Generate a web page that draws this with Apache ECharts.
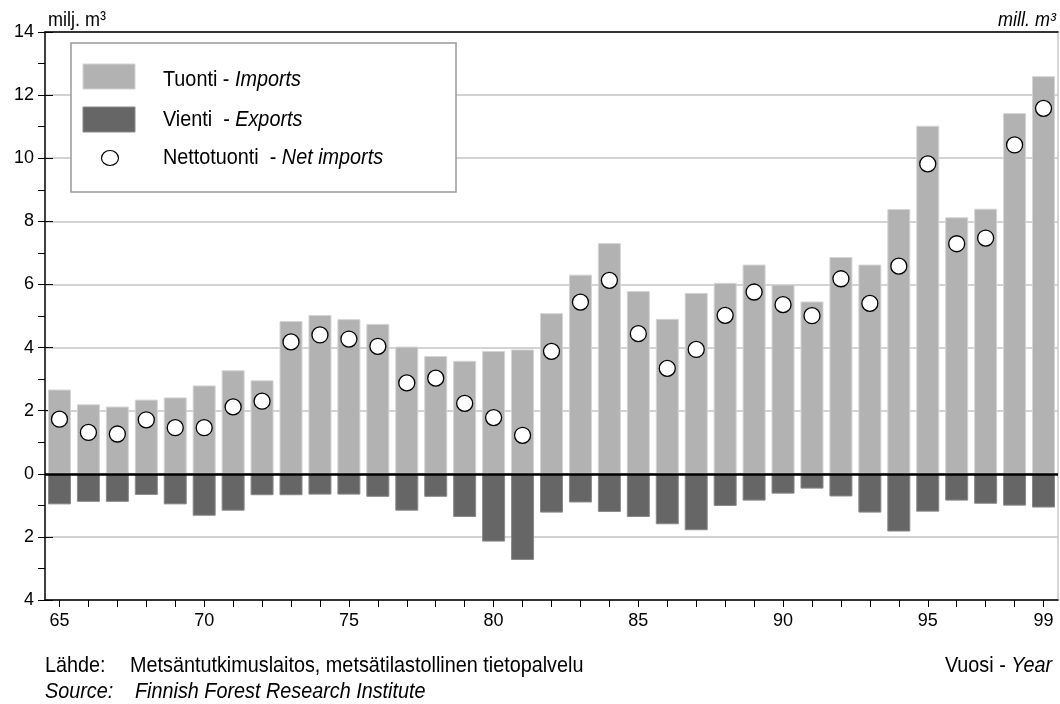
<!DOCTYPE html>
<html>
<head>
<meta charset="utf-8">
<script src="https://cdn.jsdelivr.net/npm/echarts@6/dist/echarts.min.js"></script>
<style>
html,body{margin:0;padding:0;background:#fff;}
#chart{width:1060px;height:704px;}
</style>
</head>
<body>
<div id="chart"></div>
<script>
// ---- data (million m³) ----
const years = ['65','66','67','68','69','70','71','72','73','74','75','76','77','78','79','80','81','82','83','84','85','86','87','88','89','90','91','92','93','94','95','96','97','98','99'];
const imports = [2.67,2.20,2.13,2.35,2.42,2.80,3.28,2.96,4.84,5.03,4.90,4.75,4.03,3.73,3.58,3.89,3.94,5.09,6.31,7.31,5.79,4.91,5.73,6.05,6.63,6.00,5.46,6.87,6.63,8.39,11.03,8.13,8.40,11.43,12.60];
const exportsNeg = [-0.97,-0.89,-0.89,-0.67,-0.97,-1.33,-1.17,-0.68,-0.68,-0.66,-0.66,-0.73,-1.17,-0.73,-1.37,-2.15,-2.73,-1.23,-0.91,-1.21,-1.37,-1.60,-1.79,-1.02,-0.85,-0.63,-0.47,-0.72,-1.23,-1.83,-1.20,-0.85,-0.95,-1.01,-1.07];
const netImports = [1.73,1.31,1.26,1.71,1.46,1.46,2.12,2.30,4.18,4.40,4.27,4.04,2.88,3.03,2.23,1.78,1.22,3.88,5.44,6.13,4.44,3.34,3.94,5.02,5.76,5.36,5.01,6.18,5.40,6.58,9.82,7.29,7.47,10.42,11.58];
const yTicks = {min:-4, max:14, step:2};
const labeledYears = ['65','70','75','80','85','90','95','99'];

const FONT = '"Liberation Sans",Arial,sans-serif';
const SX = 0.9; // horizontal squeeze to mimic a narrow face
const chart = echarts.init(document.getElementById('chart'), null, {renderer:'canvas'});

function richText(x, y, parts, align, size){
  return {type:'text', x:x, y:y, scaleX:SX, z:11,
    style:{text:parts, align:align||'left', verticalAlign:'middle',
      rich:{n:{font:size+'px '+FONT, fill:'#000'}, i:{font:'italic '+size+'px '+FONT, fill:'#000'}}}};
}

const option = {
  backgroundColor:'#fff',
  animation:false,
  textStyle:{fontFamily:FONT, color:'#000'},
  grid:{left:45, right:2, top:32, bottom:104, containLabel:false},
  xAxis:[{
    type:'category', data:years, boundaryGap:true, position:'bottom',
    axisLine:{show:true, onZero:false, lineStyle:{color:'#000', width:1.5}},
    axisTick:{show:true, alignWithLabel:true, interval:0, length:7, lineStyle:{color:'#000', width:1}},
    axisLabel:{interval:(i,v)=>labeledYears.indexOf(v)>=0, fontFamily:FONT, fontSize:18, color:'#000', margin:12},
    splitLine:{show:false}
  },{
    type:'category', data:years, position:'top',
    axisLine:{show:true, onZero:false, lineStyle:{color:'#000', width:1.5}},
    axisTick:{show:false}, axisLabel:{show:false}, splitLine:{show:false}
  }],
  yAxis:[{
    type:'value', min:yTicks.min, max:yTicks.max, interval:yTicks.step, position:'left',
    axisLine:{show:true, lineStyle:{color:'#000', width:1.5}},
    axisTick:{show:true, length:7, lineStyle:{color:'#000', width:1}},
    minorTick:{show:true, splitNumber:2, length:7, lineStyle:{color:'#000', width:1}},
    axisLabel:{formatter:v=>String(Math.abs(v)), fontFamily:FONT, fontSize:18, color:'#000', margin:11},
    splitLine:{show:true, lineStyle:{color:'#c4c4c4', width:1.5}}
  },{
    type:'value', min:yTicks.min, max:yTicks.max, interval:yTicks.step, position:'right',
    axisLine:{show:true, lineStyle:{color:'#c8c8c8', width:1.5}},
    axisTick:{show:false}, axisLabel:{show:false}, splitLine:{show:false}
  },{
    type:'value', min:yTicks.min, max:yTicks.max, interval:yTicks.step, position:'left', offset:0,
    axisLine:{show:false},
    axisTick:{show:true, inside:true, length:8, lineStyle:{color:'#000', width:1}},
    axisLabel:{show:false}, splitLine:{show:false}
  }],
  series:[{
    name:'Tuonti - Imports', type:'bar', data:imports, stack:'trade', barWidth:23,
    itemStyle:{color:'#b2b2b2', borderColor:'#d4d4d4', borderWidth:1},
    z:2,
    markLine:{silent:true, symbol:['none','none'], label:{show:false},
      lineStyle:{color:'#000', width:2.5, type:'solid'}, data:[{yAxis:0}], z:5}
  },{
    name:'Vienti - Exports', type:'bar', data:exportsNeg, stack:'trade', barWidth:23,
    itemStyle:{color:'#666666', borderColor:'#8a8a8a', borderWidth:1},
    z:2
  },{
    name:'Nettotuonti - Net imports', type:'scatter', data:netImports,
    symbol:'circle', symbolSize:16,
    itemStyle:{color:'#fff', borderColor:'#000', borderWidth:1.3, opacity:1},
    z:6
  }],
  graphic:[
    {type:'text', x:48, y:20, scaleX:SX, style:{text:'milj. m³', font:'20px '+FONT, fill:'#000', verticalAlign:'middle'}},
    {type:'text', x:1056, y:20, scaleX:SX, style:{text:'mill. m³', font:'italic 20px '+FONT, fill:'#000', align:'right', verticalAlign:'middle'}},
    {type:'rect', shape:{x:71, y:43, width:385, height:149}, style:{fill:'#fff', stroke:'#999', lineWidth:1.5}, z:10},
    {type:'rect', shape:{x:83, y:64, width:52, height:25}, style:{fill:'#b2b2b2', stroke:'#d4d4d4', lineWidth:1}, z:11},
    {type:'rect', shape:{x:83, y:107, width:52, height:25}, style:{fill:'#666666', stroke:'#8a8a8a', lineWidth:1}, z:11},
    {type:'ellipse', shape:{cx:110, cy:158, rx:8.5, ry:7.5}, style:{fill:'#fff', stroke:'#000', lineWidth:1.2}, z:11},
    richText(163, 80, '{n|Tuonti - }{i|Imports}', 'left', 22),
    richText(163, 120, '{n|Vienti  - }{i|Exports}', 'left', 22),
    richText(163, 158, '{n|Nettotuonti  - }{i|Net imports}', 'left', 22),
    richText(45, 666, '{n|Lähde:}', 'left', 22),
    richText(130, 666, '{n|Metsäntutkimuslaitos, metsätilastollinen tietopalvelu}', 'left', 22),
    richText(45, 692, '{i|Source:}', 'left', 22),
    richText(135, 692, '{i|Finnish Forest Research Institute}', 'left', 22),
    richText(1052, 666, '{n|Vuosi - }{i|Year}', 'right', 22)
  ]
};
chart.setOption(option);
</script>
</body>
</html>
